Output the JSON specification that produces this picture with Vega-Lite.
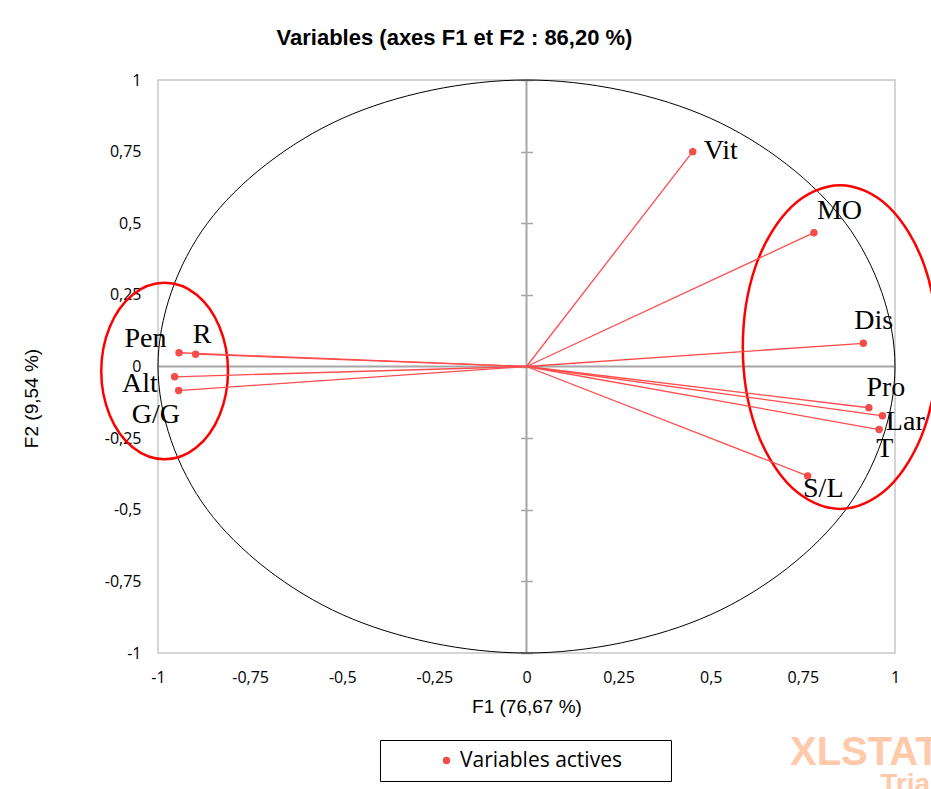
{
  "$schema": "https://vega.github.io/schema/vega-lite/v6.json",
  "width": 737,
  "height": 573,
  "autosize": "none",
  "padding": {"left": 158, "top": 80, "right": 36, "bottom": 136},
  "background": "white",
  "title": {
    "text": "Variables (axes F1 et F2 : 86,20 %)",
    "font": "Liberation Sans",
    "fontSize": 22,
    "fontWeight": "bold",
    "color": "black",
    "anchor": "middle",
    "dx": -72,
    "offset": 22
  },
  "config": {
    "view": {"stroke": "#C8C8C8", "strokeWidth": 1.5},
    "axis": {"labelColor": "black", "titleColor": "black", "titleFontWeight": "normal", "grid": false}
  },
  "resolve": {"axis": {"x": "independent", "y": "independent"}},
  "datasets": {
    "vars": [
      {"name": "Vit", "F1": 0.451, "F2": 0.750, "group": "Variables actives"},
      {"name": "MO", "F1": 0.780, "F2": 0.467, "group": "Variables actives"},
      {"name": "Dis", "F1": 0.914, "F2": 0.081, "group": "Variables actives"},
      {"name": "Pro", "F1": 0.929, "F2": -0.144, "group": "Variables actives"},
      {"name": "Lar", "F1": 0.966, "F2": -0.172, "group": "Variables actives"},
      {"name": "T", "F1": 0.957, "F2": -0.220, "group": "Variables actives"},
      {"name": "S/L", "F1": 0.763, "F2": -0.382, "group": "Variables actives"},
      {"name": "Pen", "F1": -0.943, "F2": 0.048, "group": "Variables actives"},
      {"name": "R", "F1": -0.898, "F2": 0.043, "group": "Variables actives"},
      {"name": "Alt", "F1": -0.955, "F2": -0.036, "group": "Variables actives"},
      {"name": "G/G", "F1": -0.944, "F2": -0.084, "group": "Variables actives"}
    ],
    "curves": [
      {"curve": "cercle", "a": 0, "F1": 1, "F2": 0},
      {"curve": "cercle", "a": 30, "F1": 0.866, "F2": 0.5},
      {"curve": "cercle", "a": 60, "F1": 0.5, "F2": 0.866},
      {"curve": "cercle", "a": 90, "F1": 0, "F2": 1},
      {"curve": "cercle", "a": 120, "F1": -0.5, "F2": 0.866},
      {"curve": "cercle", "a": 150, "F1": -0.866, "F2": 0.5},
      {"curve": "cercle", "a": 180, "F1": -1, "F2": 0},
      {"curve": "cercle", "a": 210, "F1": -0.866, "F2": -0.5},
      {"curve": "cercle", "a": 240, "F1": -0.5, "F2": -0.866},
      {"curve": "cercle", "a": 270, "F1": 0, "F2": -1},
      {"curve": "cercle", "a": 300, "F1": 0.5, "F2": -0.866},
      {"curve": "cercle", "a": 330, "F1": 0.866, "F2": -0.5},
      {"curve": "gauche", "a": 0, "F1": -0.810, "F2": -0.016},
      {"curve": "gauche", "a": 30, "F1": -0.833, "F2": 0.138},
      {"curve": "gauche", "a": 60, "F1": -0.896, "F2": 0.251},
      {"curve": "gauche", "a": 90, "F1": -0.982, "F2": 0.292},
      {"curve": "gauche", "a": 120, "F1": -1.068, "F2": 0.251},
      {"curve": "gauche", "a": 150, "F1": -1.131, "F2": 0.138},
      {"curve": "gauche", "a": 180, "F1": -1.154, "F2": -0.016},
      {"curve": "gauche", "a": 210, "F1": -1.131, "F2": -0.170},
      {"curve": "gauche", "a": 240, "F1": -1.068, "F2": -0.283},
      {"curve": "gauche", "a": 270, "F1": -0.982, "F2": -0.324},
      {"curve": "gauche", "a": 300, "F1": -0.896, "F2": -0.283},
      {"curve": "gauche", "a": 330, "F1": -0.833, "F2": -0.170},
      {"curve": "droite", "a": 0, "F1": 1.115, "F2": 0.068},
      {"curve": "droite", "a": 30, "F1": 1.080, "F2": 0.351},
      {"curve": "droite", "a": 60, "F1": 0.983, "F2": 0.557},
      {"curve": "droite", "a": 90, "F1": 0.851, "F2": 0.633},
      {"curve": "droite", "a": 120, "F1": 0.719, "F2": 0.557},
      {"curve": "droite", "a": 150, "F1": 0.622, "F2": 0.351},
      {"curve": "droite", "a": 180, "F1": 0.587, "F2": 0.068},
      {"curve": "droite", "a": 210, "F1": 0.622, "F2": -0.215},
      {"curve": "droite", "a": 240, "F1": 0.719, "F2": -0.421},
      {"curve": "droite", "a": 270, "F1": 0.851, "F2": -0.497},
      {"curve": "droite", "a": 300, "F1": 0.983, "F2": -0.421},
      {"curve": "droite", "a": 330, "F1": 1.080, "F2": -0.215}
    ]
  },
  "layer": [
    {
      "data": {"name": "vars"},
      "mark": {"type": "circle", "size": 55, "opacity": 0},
      "encoding": {
        "x": {
          "field": "F1", "type": "quantitative", "scale": {"domain": [-1, 1], "nice": false, "zero": false},
          "axis": {"orient": "bottom", "values": [-1, -0.75, -0.5, -0.25, 0, 0.25, 0.5, 0.75, 1], "labelExpr": "replace(replace(format(datum.value,'~g'),'.',','),'\u2212','-')", "domain": false, "ticks": false, "grid": false, "labelPadding": 16, "labelFont": "Open Sans", "labelFontSize": 16, "labelFlush": false, "labelOverlap": false, "title": "F1 (76,67 %)", "titleFont": "Liberation Sans", "titleFontSize": 19, "titleFontWeight": "normal", "titlePadding": 12}
        },
        "y": {
          "field": "F2", "type": "quantitative", "scale": {"domain": [-1, 1], "nice": false, "zero": false},
          "axis": {"orient": "left", "values": [-1, -0.75, -0.5, -0.25, 0, 0.25, 0.5, 0.75, 1], "labelExpr": "replace(replace(format(datum.value,'~g'),'.',','),'\u2212','-')", "domain": false, "ticks": false, "grid": false, "labelPadding": 17, "labelFont": "Open Sans", "labelFontSize": 16, "labelFlush": false, "labelOverlap": false, "title": "F2 (9,54 %)", "titleFont": "Liberation Sans", "titleFontSize": 19, "titleFontWeight": "normal", "titleAngle": 270, "titleX": -127, "titleY": 318, "titleBaseline": "middle", "titleAlign": "center"}
        }
      }
    },
    {
      "data": {"values": [{}]},
      "mark": {"type": "rule", "color": "#A6A6A6", "strokeWidth": 2},
      "encoding": {
        "x": {"datum": 0, "type": "quantitative", "scale": {"domain": [-1, 1], "nice": false, "zero": false}, "axis": null},
        "y": {"datum": -1, "type": "quantitative", "scale": {"domain": [-1, 1], "nice": false, "zero": false}, "axis": null},
        "y2": {"datum": 1}
      }
    },
    {
      "data": {"values": [{}]},
      "mark": {"type": "rule", "color": "#A6A6A6", "strokeWidth": 2},
      "encoding": {
        "x": {"datum": -1, "type": "quantitative", "scale": {"domain": [-1, 1], "nice": false, "zero": false}, "axis": null},
        "x2": {"datum": 1},
        "y": {"datum": 0, "type": "quantitative", "scale": {"domain": [-1, 1], "nice": false, "zero": false}, "axis": null}
      }
    },
    {
      "data": {"name": "curves"},
      "transform": [{"filter": "datum.curve === 'cercle'"}],
      "mark": {"type": "line", "interpolate": "cardinal-closed", "color": "black", "strokeWidth": 1},
      "encoding": {
        "x": {"field": "F1", "type": "quantitative", "scale": {"domain": [-1, 1], "nice": false, "zero": false}, "axis": null},
        "y": {"field": "F2", "type": "quantitative", "scale": {"domain": [-1, 1], "nice": false, "zero": false}, "axis": null},
        "order": {"field": "a", "type": "quantitative"}
      }
    },
    {
      "data": {"name": "curves"},
      "transform": [{"filter": "datum.curve !== 'cercle'"}],
      "mark": {"type": "line", "interpolate": "cardinal-closed", "color": "#FF0000", "strokeWidth": 2.5},
      "encoding": {
        "x": {"field": "F1", "type": "quantitative", "scale": {"domain": [-1, 1], "nice": false, "zero": false}, "axis": null},
        "y": {"field": "F2", "type": "quantitative", "scale": {"domain": [-1, 1], "nice": false, "zero": false}, "axis": null},
        "detail": {"field": "curve", "type": "nominal"},
        "order": {"field": "a", "type": "quantitative"}
      }
    },
    {
      "data": {"name": "vars"},
      "mark": {"type": "rule", "color": "#FF4D4D", "strokeWidth": 1.3},
      "encoding": {
        "x": {"field": "F1", "type": "quantitative", "scale": {"domain": [-1, 1], "nice": false, "zero": false}, "axis": null},
        "y": {
          "field": "F2", "type": "quantitative", "scale": {"domain": [-1, 1], "nice": false, "zero": false},
          "axis": {"orient": "right", "offset": -374.5, "values": [-1, -0.75, -0.5, -0.25, 0, 0.25, 0.5, 0.75, 1], "domain": false, "labels": false, "ticks": true, "tickSize": 12, "tickColor": "#A6A6A6", "tickWidth": 1.5, "grid": false, "title": null}
        },
        "x2": {"datum": 0},
        "y2": {"datum": 0}
      }
    },
    {
      "data": {"name": "vars"},
      "mark": {"type": "circle", "size": 55, "opacity": 1},
      "encoding": {
        "x": {"field": "F1", "type": "quantitative", "scale": {"domain": [-1, 1], "nice": false, "zero": false}, "axis": null},
        "y": {"field": "F2", "type": "quantitative", "scale": {"domain": [-1, 1], "nice": false, "zero": false}, "axis": null},
        "color": {
          "field": "group", "type": "nominal", "scale": {"range": ["#F44B4B"]},
          "legend": {"orient": "none", "legendX": 222, "legendY": 660, "title": null, "strokeColor": "black", "padding": 10, "symbolOffset": 46, "labelOffset": 3, "symbolType": "circle", "symbolSize": 55, "labelFont": "Open Sans", "labelFontSize": 21, "labelColor": "black", "labelLimit": 500, "labelExpr": "datum.label + '\u00a0\u00a0\u00a0\u00a0\u00a0\u00a0\u00a0\u200b'"}
        }
      }
    },
    {"data": {"name": "vars"}, "transform": [{"filter": "datum.name === 'Vit'"}], "mark": {"type": "text", "font": "Liberation Serif", "fontSize": 28, "color": "black", "align": "left", "baseline": "alphabetic", "dx": 11, "dy": 7.5}, "encoding": {"x": {"field": "F1", "type": "quantitative", "scale": {"domain": [-1, 1], "nice": false, "zero": false}, "axis": null}, "y": {"field": "F2", "type": "quantitative", "scale": {"domain": [-1, 1], "nice": false, "zero": false}, "axis": null}, "text": {"field": "name"}}},
    {"data": {"name": "vars"}, "transform": [{"filter": "datum.name === 'MO'"}], "mark": {"type": "text", "font": "Liberation Serif", "fontSize": 28, "color": "black", "align": "left", "baseline": "alphabetic", "dx": 3, "dy": -13.7}, "encoding": {"x": {"field": "F1", "type": "quantitative", "scale": {"domain": [-1, 1], "nice": false, "zero": false}, "axis": null}, "y": {"field": "F2", "type": "quantitative", "scale": {"domain": [-1, 1], "nice": false, "zero": false}, "axis": null}, "text": {"field": "name"}}},
    {"data": {"name": "vars"}, "transform": [{"filter": "datum.name === 'Dis'"}], "mark": {"type": "text", "font": "Liberation Serif", "fontSize": 28, "color": "black", "align": "center", "baseline": "alphabetic", "dx": 10.5, "dy": -14}, "encoding": {"x": {"field": "F1", "type": "quantitative", "scale": {"domain": [-1, 1], "nice": false, "zero": false}, "axis": null}, "y": {"field": "F2", "type": "quantitative", "scale": {"domain": [-1, 1], "nice": false, "zero": false}, "axis": null}, "text": {"field": "name"}}},
    {"data": {"name": "vars"}, "transform": [{"filter": "datum.name === 'Pro'"}], "mark": {"type": "text", "font": "Liberation Serif", "fontSize": 28, "color": "black", "align": "center", "baseline": "alphabetic", "dx": 17, "dy": -12}, "encoding": {"x": {"field": "F1", "type": "quantitative", "scale": {"domain": [-1, 1], "nice": false, "zero": false}, "axis": null}, "y": {"field": "F2", "type": "quantitative", "scale": {"domain": [-1, 1], "nice": false, "zero": false}, "axis": null}, "text": {"field": "name"}}},
    {"data": {"name": "vars"}, "transform": [{"filter": "datum.name === 'Lar'"}], "mark": {"type": "text", "font": "Liberation Serif", "fontSize": 28, "color": "black", "align": "left", "baseline": "alphabetic", "dx": 3.4, "dy": 14.3}, "encoding": {"x": {"field": "F1", "type": "quantitative", "scale": {"domain": [-1, 1], "nice": false, "zero": false}, "axis": null}, "y": {"field": "F2", "type": "quantitative", "scale": {"domain": [-1, 1], "nice": false, "zero": false}, "axis": null}, "text": {"field": "name"}}},
    {"data": {"name": "vars"}, "transform": [{"filter": "datum.name === 'T'"}], "mark": {"type": "text", "font": "Liberation Serif", "fontSize": 28, "color": "black", "align": "center", "baseline": "alphabetic", "dx": 5.7, "dy": 27}, "encoding": {"x": {"field": "F1", "type": "quantitative", "scale": {"domain": [-1, 1], "nice": false, "zero": false}, "axis": null}, "y": {"field": "F2", "type": "quantitative", "scale": {"domain": [-1, 1], "nice": false, "zero": false}, "axis": null}, "text": {"field": "name"}}},
    {"data": {"name": "vars"}, "transform": [{"filter": "datum.name === 'S/L'"}], "mark": {"type": "text", "font": "Liberation Serif", "fontSize": 28, "color": "black", "align": "center", "baseline": "alphabetic", "dx": 15.6, "dy": 20.7}, "encoding": {"x": {"field": "F1", "type": "quantitative", "scale": {"domain": [-1, 1], "nice": false, "zero": false}, "axis": null}, "y": {"field": "F2", "type": "quantitative", "scale": {"domain": [-1, 1], "nice": false, "zero": false}, "axis": null}, "text": {"field": "name"}}},
    {"data": {"name": "vars"}, "transform": [{"filter": "datum.name === 'Pen'"}], "mark": {"type": "text", "font": "Liberation Serif", "fontSize": 28, "color": "black", "align": "right", "baseline": "alphabetic", "dx": -12.6, "dy": -6}, "encoding": {"x": {"field": "F1", "type": "quantitative", "scale": {"domain": [-1, 1], "nice": false, "zero": false}, "axis": null}, "y": {"field": "F2", "type": "quantitative", "scale": {"domain": [-1, 1], "nice": false, "zero": false}, "axis": null}, "text": {"field": "name"}}},
    {"data": {"name": "vars"}, "transform": [{"filter": "datum.name === 'R'"}], "mark": {"type": "text", "font": "Liberation Serif", "fontSize": 28, "color": "black", "align": "center", "baseline": "alphabetic", "dx": 6.5, "dy": -11.6}, "encoding": {"x": {"field": "F1", "type": "quantitative", "scale": {"domain": [-1, 1], "nice": false, "zero": false}, "axis": null}, "y": {"field": "F2", "type": "quantitative", "scale": {"domain": [-1, 1], "nice": false, "zero": false}, "axis": null}, "text": {"field": "name"}}},
    {"data": {"name": "vars"}, "transform": [{"filter": "datum.name === 'Alt'"}], "mark": {"type": "text", "font": "Liberation Serif", "fontSize": 28, "color": "black", "align": "right", "baseline": "alphabetic", "dx": -16.7, "dy": 15}, "encoding": {"x": {"field": "F1", "type": "quantitative", "scale": {"domain": [-1, 1], "nice": false, "zero": false}, "axis": null}, "y": {"field": "F2", "type": "quantitative", "scale": {"domain": [-1, 1], "nice": false, "zero": false}, "axis": null}, "text": {"field": "name"}}},
    {"data": {"name": "vars"}, "transform": [{"filter": "datum.name === 'G/G'"}], "mark": {"type": "text", "font": "Liberation Serif", "fontSize": 28, "color": "black", "align": "center", "baseline": "alphabetic", "dx": -22.7, "dy": 32.6}, "encoding": {"x": {"field": "F1", "type": "quantitative", "scale": {"domain": [-1, 1], "nice": false, "zero": false}, "axis": null}, "y": {"field": "F2", "type": "quantitative", "scale": {"domain": [-1, 1], "nice": false, "zero": false}, "axis": null}, "text": {"field": "name"}}},
    {
      "data": {"values": [{}]},
      "mark": {"type": "text", "text": "XLSTAT", "font": "Liberation Sans", "fontSize": 40, "fontWeight": "bold", "color": "#FFC9AA", "align": "left", "baseline": "alphabetic"},
      "encoding": {
        "x": {"datum": 0.715, "type": "quantitative", "scale": {"domain": [-1, 1], "nice": false, "zero": false}, "axis": null},
        "y": {"datum": -1.39, "type": "quantitative", "scale": {"domain": [-1, 1], "nice": false, "zero": false}, "axis": null}
      }
    },
    {
      "data": {"values": [{}]},
      "mark": {"type": "text", "text": "Trial", "font": "Liberation Sans", "fontSize": 28, "fontWeight": "bold", "color": "#FFC9AA", "align": "left", "baseline": "alphabetic"},
      "encoding": {
        "x": {"datum": 0.96, "type": "quantitative", "scale": {"domain": [-1, 1], "nice": false, "zero": false}, "axis": null},
        "y": {"datum": -1.49, "type": "quantitative", "scale": {"domain": [-1, 1], "nice": false, "zero": false}, "axis": null}
      }
    }
  ]
}
